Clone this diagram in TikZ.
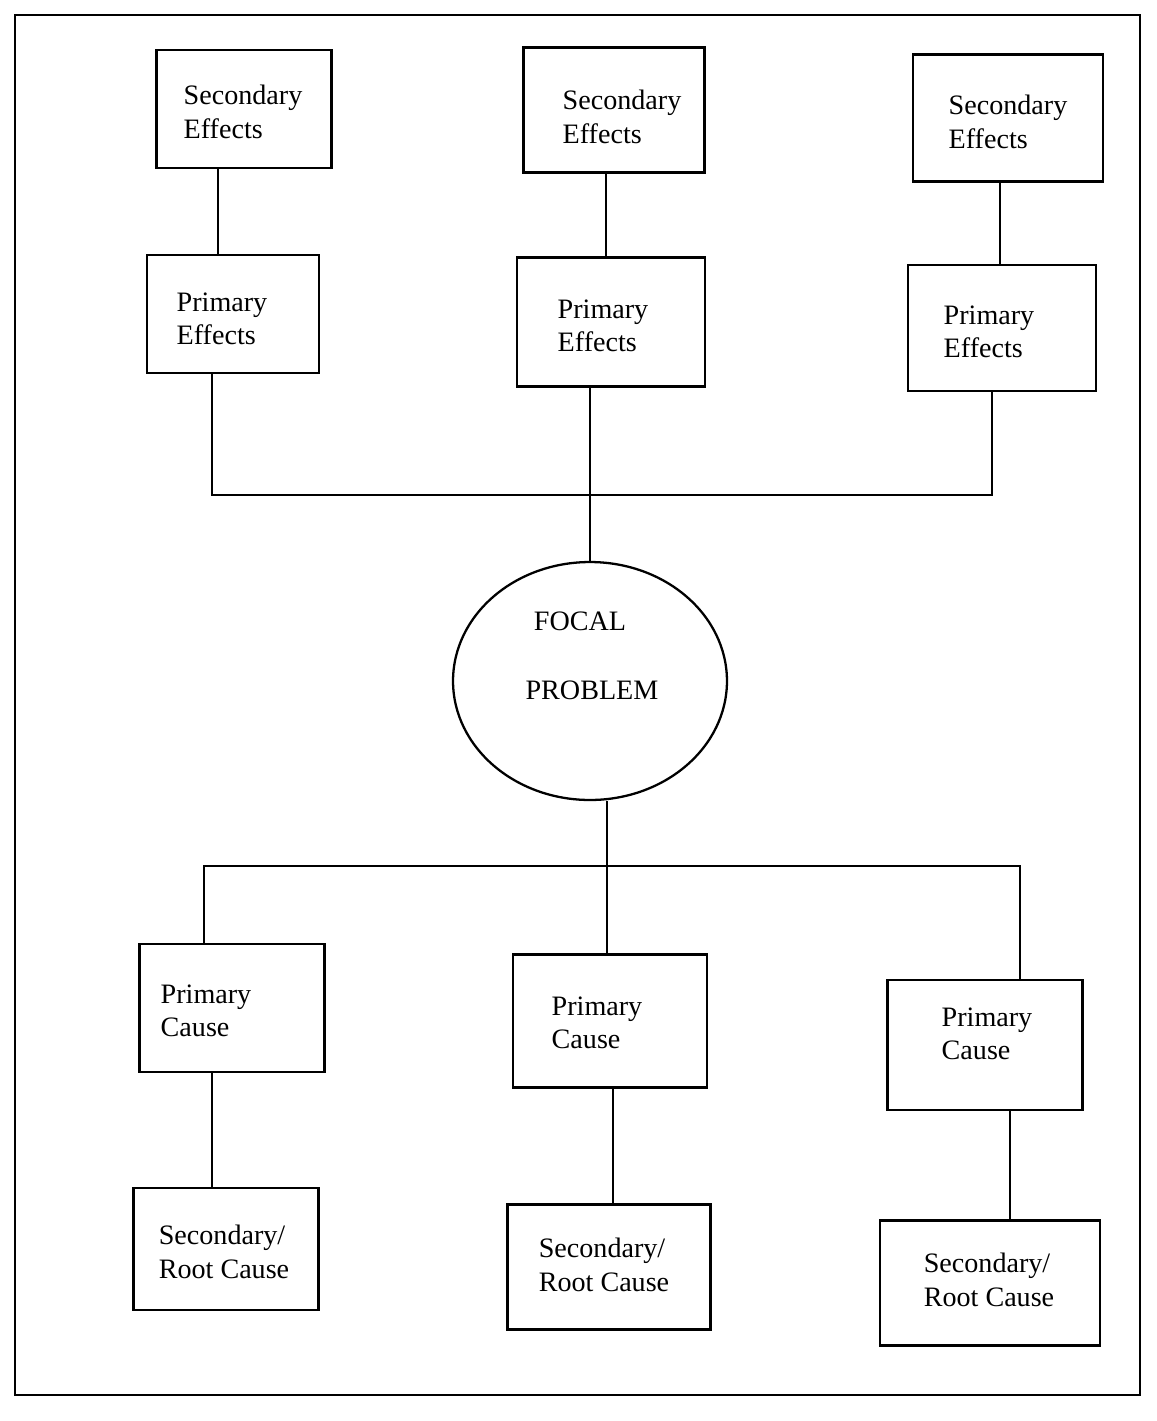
\documentclass[tikz,border=0pt]{standalone}
\usepackage{fontspec}
\setmainfont{Liberation Serif}
\usetikzlibrary{shapes.geometric}
\begin{document}
\begin{tikzpicture}[x=0.02cm,y=-0.02cm,
  line width=1.3pt,
  box/.style={draw, rectangle, inner sep=0pt},
  txt/.style={align=left, inner sep=0pt, font=\fontsize{16}{19}\selectfont},
  conn/.style={draw, line width=1.5pt}]
  % page frame
  \useasboundingbox (0,0) rectangle (1157,1421);
  \draw[line width=1.2pt] (15,15) rectangle (1140,1395);

  % effects
  \node[box, minimum width=3.5cm, minimum height=2.36cm] (se1) at (244,109) {};
  \node[box, minimum width=3.62cm, minimum height=2.5cm] (se2) at (614,110) {};
  \node[box, minimum width=3.8cm, minimum height=2.54cm] (se3) at (1008,118) {};
  \node[box, minimum width=3.44cm, minimum height=2.36cm] (pe1) at (233,314) {};
  \node[box, minimum width=3.76cm, minimum height=2.58cm] (pe2) at (611,322) {};
  \node[box, minimum width=3.76cm, minimum height=2.52cm] (pe3) at (1002,328) {};
  \node[txt] (se1t) at (243,112) {Secondary\\Effects};
  \node[txt] (se2t) at (622,117) {Secondary\\Effects};
  \node[txt] (se3t) at (1008,122) {Secondary\\Effects};
  \node[txt] (pe1t) at (222,319) {Primary\\Effects};
  \node[txt] (pe2t) at (603,326) {Primary\\Effects};
  \node[txt] (pe3t) at (989,332) {Primary\\Effects};

  % focal problem
  \node[draw, ellipse, minimum width=5.48cm, minimum height=4.76cm, inner sep=0pt]
    (focal) at (590,681) {};
  \node[txt] (focalt) at (580,621) {FOCAL};
  \node[txt] (problemt) at (592,690) {PROBLEM};

  % causes
  \node[box, minimum width=3.7cm, minimum height=2.56cm] (pc1) at (232,1008) {};
  \node[box, minimum width=3.88cm, minimum height=2.66cm] (pc2) at (610,1021) {};
  \node[box, minimum width=3.9cm, minimum height=2.6cm] (pc3) at (985,1045) {};
  \node[box, minimum width=3.7cm, minimum height=2.44cm] (rc1) at (226,1249) {};
  \node[box, minimum width=4.06cm, minimum height=2.5cm] (rc2) at (609,1267) {};
  \node[box, minimum width=4.4cm, minimum height=2.5cm] (rc3) at (990,1283) {};
  \node[txt] (pc1t) at (206,1011) {Primary\\Cause};
  \node[txt] (pc2t) at (597,1023) {Primary\\Cause};
  \node[txt] (pc3t) at (987,1034) {Primary\\Cause};
  \node[txt] (rc1t) at (224,1252) {Secondary/\\Root Cause};
  \node[txt] (rc2t) at (604,1265) {Secondary/\\Root Cause};
  \node[txt] (rc3t) at (989,1280) {Secondary/\\Root Cause};

  % connector columns and junctions
  \coordinate (xa) at (218,0);
  \coordinate (xb) at (606,0);
  \coordinate (xc) at (1000,0);
  \coordinate (xd) at (212,0);
  \coordinate (xe) at (992,0);
  \coordinate (jt) at (592,495);
  \coordinate (xf) at (204,0);
  \coordinate (xg) at (607,0);
  \coordinate (xh) at (1020,0);
  \coordinate (jb) at (607,866);
  \coordinate (xi) at (212,0);
  \coordinate (xj) at (613,0);
  \coordinate (xk) at (1010,0);

  % effects tree
  \draw[conn] (se1.south -| xa) -- (pe1.north -| xa);
  \draw[conn] (se2.south -| xb) -- (pe2.north -| xb);
  \draw[conn] (se3.south -| xc) -- (pe3.north -| xc);
  \draw[conn] (pe1.south -| xd) |- (jt) -| (pe3.south -| xe);
  \draw[conn] (focal.north) -- (focal.north |- pe2.south);

  % causes tree
  \draw[conn] (focal.south -| xg) -- (jb);
  \draw[conn] (pc1.north -| xf) |- (jb) -| (pc3.north -| xh);
  \draw[conn] (jb) -- (pc2.north -| xg);
  \draw[conn] (pc1.south -| xi) -- (rc1.north -| xi);
  \draw[conn] (pc2.south -| xj) -- (rc2.north -| xj);
  \draw[conn] (pc3.south -| xk) -- (rc3.north -| xk);
\end{tikzpicture}
\end{document}
